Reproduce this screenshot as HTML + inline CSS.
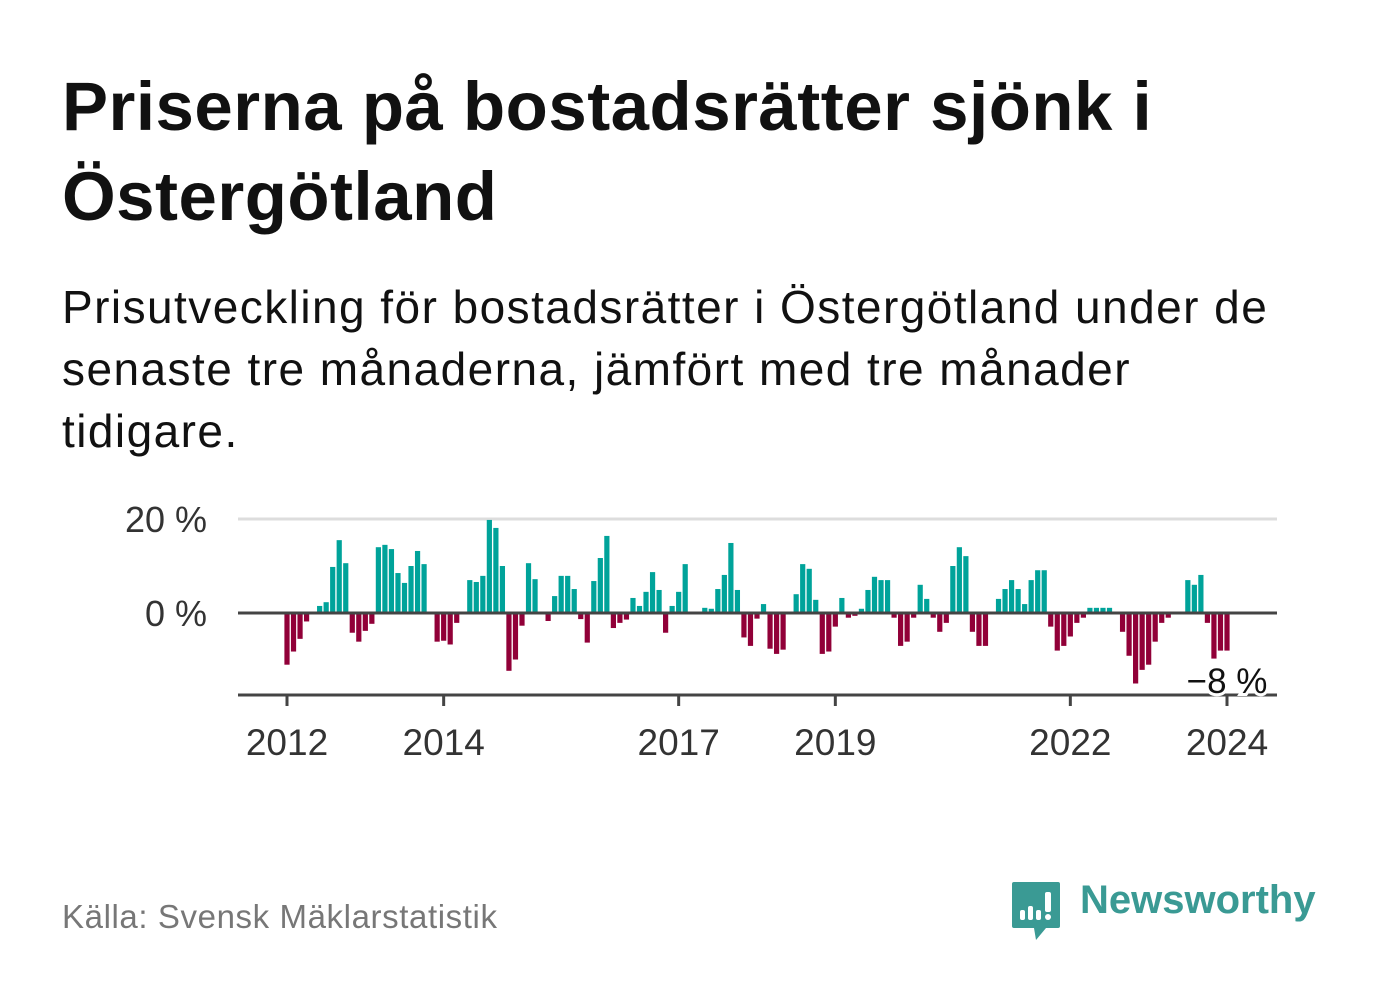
<!DOCTYPE html>
<html><head><meta charset="utf-8"><style>
body{margin:0;background:#fff;width:1382px;height:999px;overflow:hidden;font-family:"Liberation Sans",sans-serif;position:relative}
h1{position:absolute;left:62px;top:62px;margin:0;font-size:69px;line-height:90px;font-weight:bold;color:#111;white-space:nowrap;letter-spacing:0.5px}
.sub{position:absolute;left:62px;top:276px;margin:0;font-size:46px;line-height:62px;color:#111;width:1250px;letter-spacing:1.45px}
.src{position:absolute;left:62px;top:898px;font-size:33px;color:#777;letter-spacing:0.6px}
.logo{position:absolute;left:1080px;top:878px;font-size:40px;font-weight:bold;color:#3a9a94}
</style></head><body>
<h1>Priserna på bostadsrätter sjönk i<br>Östergötland</h1>
<p class="sub">Prisutveckling för bostadsrätter i Östergötland under de senaste tre månaderna, jämfört med tre månader tidigare.</p>
<svg id="chart" width="1382" height="999" style="position:absolute;left:0;top:0"></svg>
<div class="src">Källa: Svensk Mäklarstatistik</div>
<svg style="position:absolute;left:1010px;top:880px" width="52" height="62" viewBox="0 0 52 62">
<path d="M4 2h44a2 2 0 0 1 2 2v42a2 2 0 0 1-2 2H36l-10 12-2-12H4a2 2 0 0 1-2-2V4a2 2 0 0 1 2-2z" fill="#3a9a94"/>
<rect x="10" y="30" width="5" height="10" rx="2" fill="#fff"/><rect x="18" y="26" width="5" height="14" rx="2" fill="#fff"/><rect x="26" y="30" width="5" height="10" rx="2" fill="#fff"/><rect x="35" y="12" width="6" height="20" rx="2" fill="#fff"/><circle cx="38" cy="37" r="3" fill="#fff"/></svg>
<div class="logo">Newsworthy</div>
<script>
const values=[-11,-8.2,-5.5,-1.8,0,1.5,2.3,9.8,15.5,10.6,-4.2,-6.1,-3.8,-2.3,14.0,14.5,13.6,8.5,6.4,10.0,13.2,10.4,0,-6.1,-5.9,-6.7,-2.1,0,7.0,6.6,7.9,19.8,18.1,10.0,-12.3,-9.9,-2.7,10.6,7.2,0,-1.7,3.6,7.9,7.9,5.1,-1.3,-6.3,6.8,11.7,16.4,-3.2,-2.1,-1.4,3.2,1.5,4.5,8.7,4.9,-4.2,1.5,4.5,10.4,0,0,1.1,0.9,5.1,8.1,14.9,4.9,-5.2,-7.0,-1.2,1.9,-7.6,-8.7,-7.8,0,4.0,10.4,9.4,2.8,-8.7,-8.2,-2.9,3.2,-1.0,-0.6,0.9,4.9,7.7,7.0,7.0,-1.0,-7.0,-6.1,-1.0,6.0,3.0,-1.0,-4.0,-2.1,10.0,14.0,12.1,-4.0,-7.0,-7.0,0,3.0,5.1,7.0,5.1,1.9,7.0,9.1,9.1,-2.9,-8.0,-7.0,-5.0,-2.1,-1.0,1.1,1.1,1.1,1.1,0,-4.0,-9.1,-15.0,-12.1,-11.0,-6.1,-2.1,-1.0,0,0,7.0,6.0,8.1,-2.1,-9.7,-8.0,-8.0];
const yTicks=[0,20];
const yTickLabels=["0 %","20 %"];
const xTickYears=[2012,2014,2017,2019,2022,2024];
const lastLabel="−8 %";
const startYear=2012;
const NS="http://www.w3.org/2000/svg",svg=document.getElementById('chart');
const x=m=>287+m*(940/144);
const y=v=>613-v*4.7;
function el(t,a){const e=document.createElementNS(NS,t);for(const k in a)e.setAttribute(k,a[k]);svg.appendChild(e);return e;}
yTicks.forEach((t,i)=>{
 if(t!==0){const g=el('line',{x1:238,x2:1277,y1:y(t),y2:y(t),stroke:'#ddd','stroke-width':3});
 
 }
 const l=el('text',{x:207,y:y(t)+13,'text-anchor':'end','font-size':36,fill:'#333','font-family':'Liberation Sans, sans-serif'});
 
 
 l.textContent=yTickLabels[i];
});
values.forEach((v,i)=>{
 if(v===0)return;
 const r=el('rect',{x:x(i)-2.6,width:5.2,y:v>0?y(v):613,height:Math.abs(v)*4.7,fill:v>0?'#00a39a':'#910038'});
 
 
});
const z=el('line',{x1:238,x2:1277,y1:613,y2:613,stroke:'#444','stroke-width':3});


const ax=el('line',{x1:238,x2:1277,y1:695,y2:695,stroke:'#444','stroke-width':3});


xTickYears.forEach(yr=>{
 const xx=x((yr-startYear)*12);
 const t=el('line',{x1:xx,x2:xx,y1:695,y2:706,stroke:'#444','stroke-width':3});
 
 
 const l=el('text',{x:xx,y:755,'text-anchor':'middle','font-size':37,fill:'#333','font-family':'Liberation Sans, sans-serif'});
 
 
 l.textContent=yr;
});
const a=el('text',{x:x(values.length-1),y:693,'text-anchor':'middle','font-size':35,fill:'#111',stroke:'#fff','stroke-width':6,'paint-order':'stroke','font-family':'Liberation Sans, sans-serif'});


a.textContent=lastLabel;
</script>
</body></html>
